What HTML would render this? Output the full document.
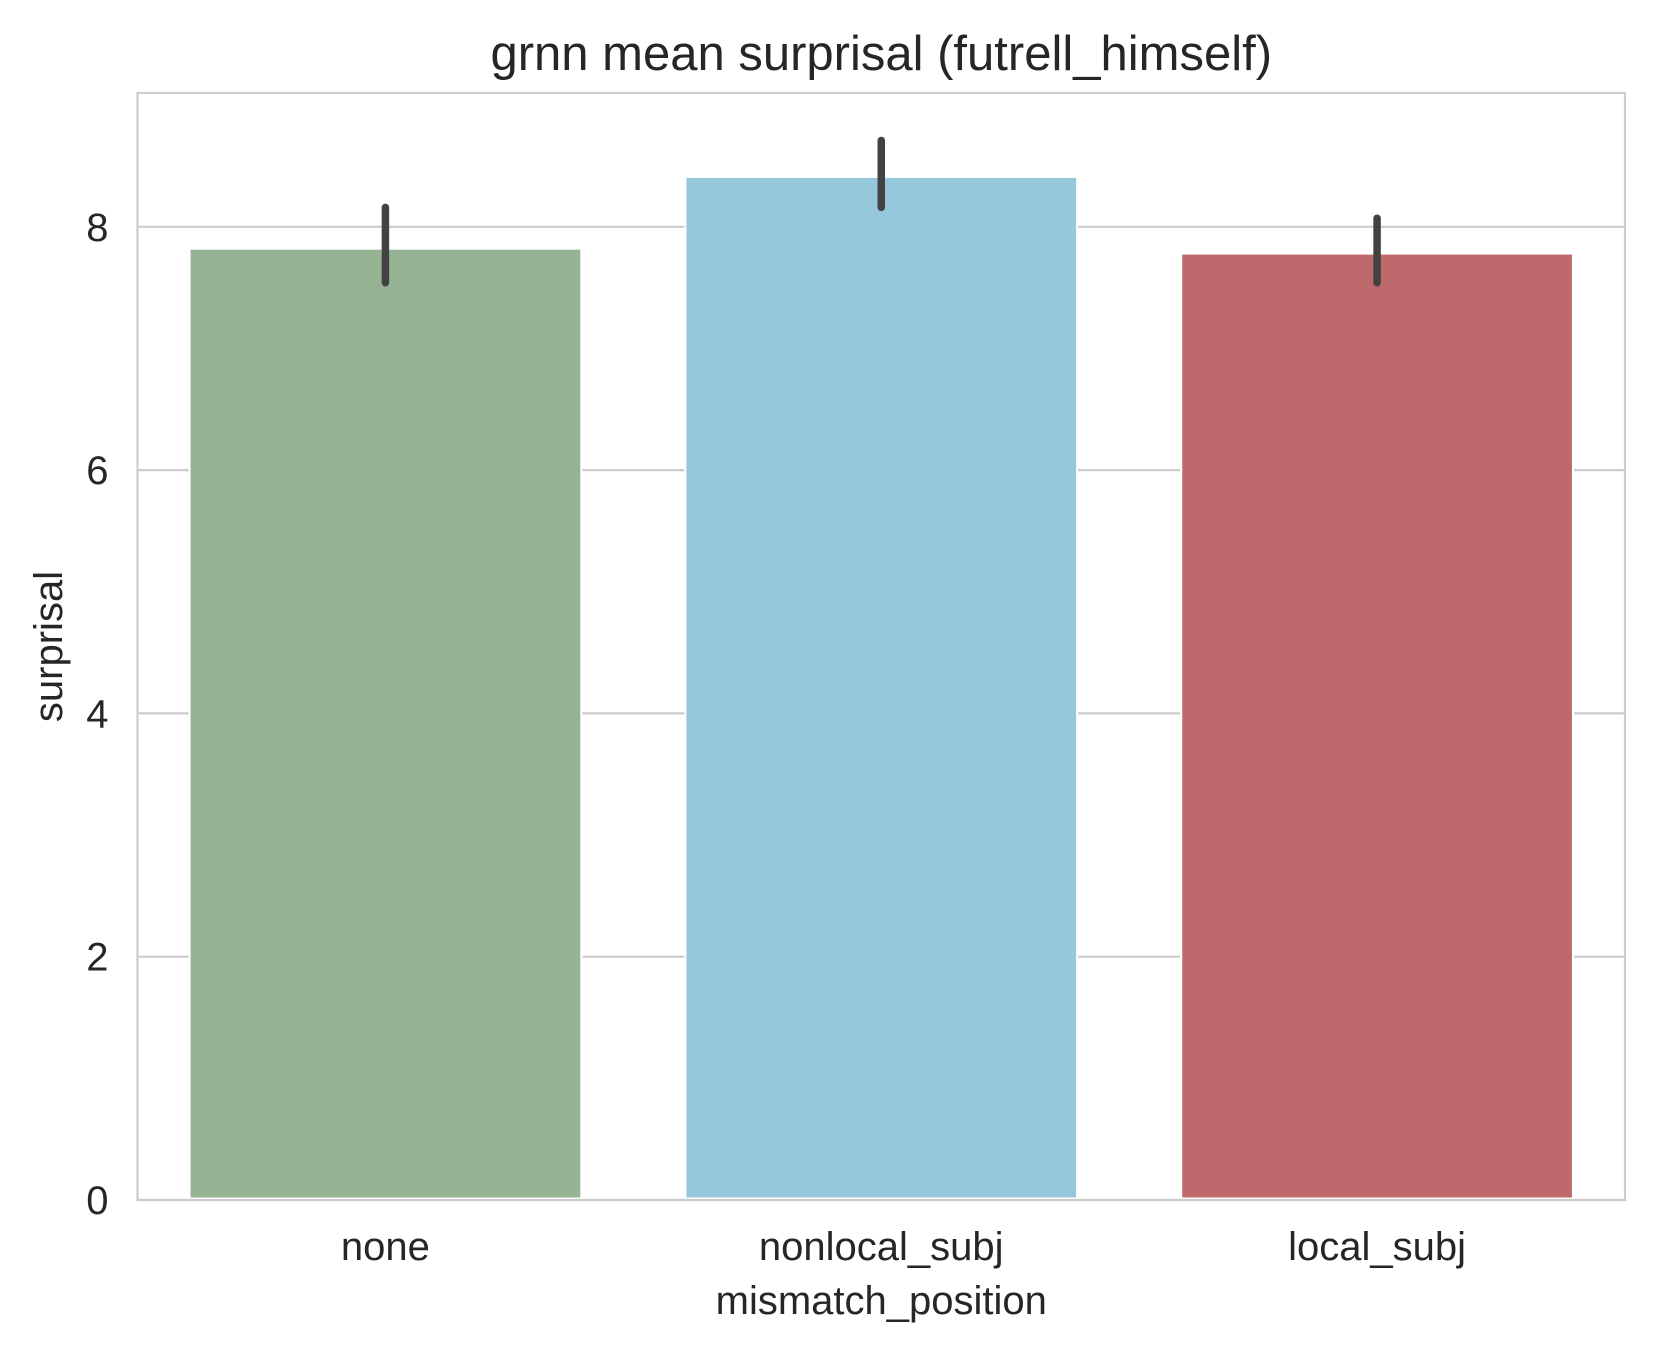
<!DOCTYPE html>
<html><head><meta charset="utf-8"><style>
html,body{margin:0;padding:0;background:#fff;}
svg{display:block;font-family:"Liberation Sans",Arial,sans-serif;}
</style></head><body>
<svg id="chart" width="1658" height="1352" viewBox="0 0 1658 1352" xmlns="http://www.w3.org/2000/svg">
<rect width="1658" height="1352" fill="#fff"/>
<g id="grid"></g><g id="bars"></g><g id="errs"></g><g id="axes"></g>
</svg>
<script>
const categories = ["none", "nonlocal_subj", "local_subj"];
const means = [7.82, 8.41, 7.78];
const ciLow = [7.54, 8.16, 7.54];
const ciHigh = [8.16, 8.71, 8.07];
const yTicks = [0, 2, 4, 6, 8];
const colors = ["#96b493", "#96c8dc", "#be696b"];

const L = 137.5, R = 1625, T = 93, B = 1200, yMax = 9.10;
const NS = "http://www.w3.org/2000/svg";
function y(v){ return B - (v / yMax) * (B - T); }
const band = (R - L) / categories.length;
function xc(i){ return L + band * (i + 0.5); }
function mk(tag, attrs, parent, text){
  const e = document.createElementNS(NS, tag);
  for (const k in attrs) e.setAttribute(k, attrs[k]);
  if (text !== undefined) e.textContent = text;
  document.getElementById(parent).appendChild(e);
  return e;
}
yTicks.forEach(t => {
  const g = mk("line", {x1:L, x2:R, y1:y(t), y2:y(t), stroke:"#cccccc", "stroke-width":2.2}, "grid");
  
  
  const lb = mk("text", {x:L-29, y:y(t)+14, "text-anchor":"end", "font-size":40, fill:"#262626"}, "axes", String(t));
  
  
});
const bw = band * 0.79;
categories.forEach((c, i) => {
  const b = mk("rect", {x:xc(i)-bw/2, y:y(means[i]), width:bw, height:y(0)-y(means[i]) - 1.5, fill:colors[i], stroke:"#fff", "stroke-width":2}, "bars");
  
  
  const e = mk("line", {x1:xc(i), x2:xc(i), y1:y(ciLow[i]), y2:y(ciHigh[i]), stroke:"#424242", "stroke-width":7.5, "stroke-linecap":"round"}, "errs");
  
  
  const t = mk("text", {x:xc(i), y:1260, "text-anchor":"middle", "font-size":40, fill:"#262626"}, "axes", c);
  
  
});
const fr = mk("rect", {x:L, y:T, width:R-L, height:B-T, fill:"none", stroke:"#cccccc", "stroke-width":2.2}, "axes");


const ti = mk("text", {x:(L+R)/2, y:70, "text-anchor":"middle", "font-size":49, fill:"#262626"}, "axes", "grnn mean surprisal (futrell_himself)");


const xl = mk("text", {x:(L+R)/2, y:1314, "text-anchor":"middle", "font-size":40, fill:"#262626"}, "axes", "mismatch_position");


const yl = mk("text", {x:0, y:0, "text-anchor":"middle", "font-size":40, fill:"#262626", transform:"translate(62,"+((T+B)/2)+") rotate(-90)"}, "axes", "surprisal");


</script>
</body></html>
